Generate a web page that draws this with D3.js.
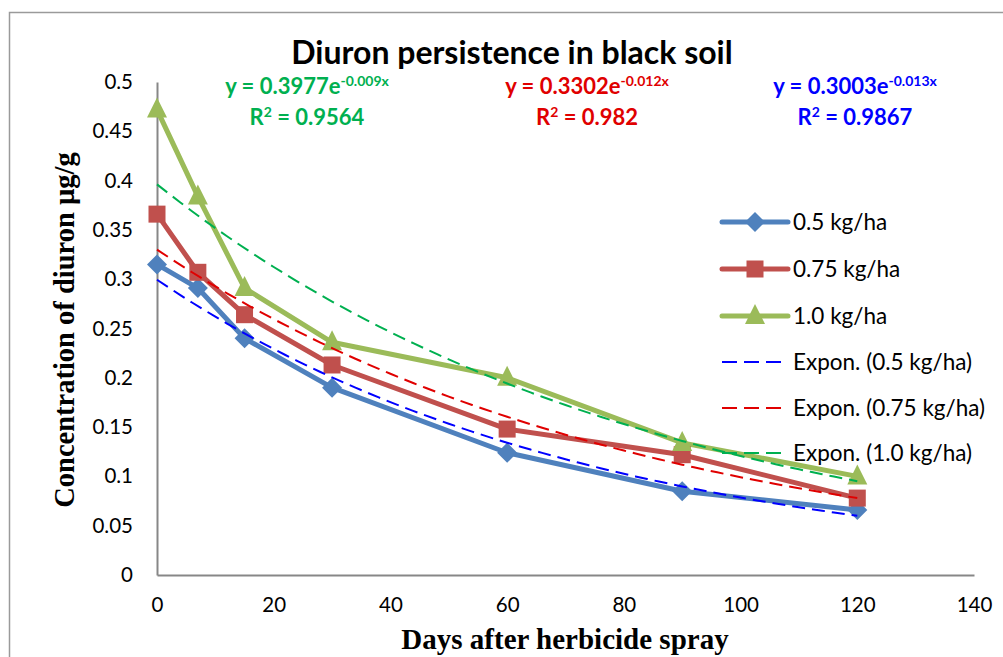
<!DOCTYPE html>
<html>
<head>
<meta charset="utf-8">
<script src="https://cdn.jsdelivr.net/npm/d3@7"></script>
<style>
  body { margin: 0; background: #fff; }
  svg { display: block; }
</style>
</head>
<body>
<div id="chart"></div>
<script>
// Days after spray
const days = [0, 7, 15, 30, 60, 90, 120];
// Residue (µg/g) per dose
const dose05 = [0.315, 0.291, 0.24, 0.19, 0.124, 0.085, 0.066];
const dose075 = [0.366, 0.307, 0.264, 0.213, 0.148, 0.122, 0.078];
const dose10 = [0.472, 0.384, 0.291, 0.236, 0.2, 0.134, 0.1];
const seriesNames = ["0.5 kg/ha", "0.75 kg/ha", "1.0 kg/ha"];
const xTicks = [0, 20, 40, 60, 80, 100, 120, 140];
const yTicks = [0, 0.05, 0.1, 0.15, 0.2, 0.25, 0.3, 0.35, 0.4, 0.45, 0.5];
// trendline labels as printed on the chart
const eqCoef = ["0.3003", "0.3302", "0.3977"];
const eqExp = ["-0.013x", "-0.012x", "-0.009x"];
const eqR2 = ["0.9867", "0.982", "0.9564"];

const width = 1003, height = 657;
const svg = d3.select("#chart").append("svg")
  .attr("width", width)
  .attr("height", height);

// chart border (runs off the right/bottom edge)
svg.append("rect")
  .attr("x", 9.5).attr("y", 12.5)
  .attr("width", 1100).attr("height", 800)
  .attr("fill", "none")
  .attr("stroke", "#9a9a9a")
  .attr("stroke-width", 1.5);

const x = d3.scaleLinear().domain([0, 140]).range([157, 974]);
const y = d3.scaleLinear().domain([0, 0.5]).range([575, 82]);

const series = [
  { name: seriesNames[0], values: dose05, color: "#4F81BD", trend: "#0000FF", marker: "diamond" },
  { name: seriesNames[1], values: dose075, color: "#C0504D", trend: "#E00000", marker: "square" },
  { name: seriesNames[2], values: dose10, color: "#9BBB59", trend: "#00B050", marker: "triangle" }
];

const sans = "Lato, 'Open Sans', sans-serif";

// Axes
const xAxis = d3.axisBottom(x).tickValues(xTicks).tickSize(0).tickPadding(22).tickFormat(d3.format("d"));
const gx = svg.append("g").attr("transform", `translate(0,${y(0)})`).call(xAxis);
const yAxis = d3.axisLeft(y).tickValues(yTicks).tickSize(0).tickPadding(24).tickFormat(d => d === 0 ? "0" : String(d));
const gy = svg.append("g").attr("transform", `translate(${x(0)},0)`).call(yAxis);
[gx, gy].forEach(g => {
  g.select(".domain").attr("stroke", "#878787").attr("stroke-width", 2);
  g.selectAll("text")
    .attr("font-family", sans)
    .attr("font-size", "20.5px")
    .attr("fill", "#000");
});

// Exponential trend fit (least squares on ln y, as the spreadsheet does)
function expFit(xs, ys) {
  const ly = ys.map(Math.log);
  const mx = d3.mean(xs), my = d3.mean(ly);
  const b = d3.sum(xs, (v, i) => (v - mx) * (ly[i] - my)) / d3.sum(xs, v => (v - mx) * (v - mx));
  const a = Math.exp(my - b * mx);
  return t => a * Math.exp(b * t);
}

const curve = d3.line().x(d => x(d[0])).y(d => y(d[1]));
series.forEach(s => {
  const f = expFit(days, s.values);
  s.trendPts = d3.range(0, 120.01, 2).map(t => [t, f(t)]);
});

// data lines
series.forEach(s => {
  svg.append("path")
    .datum(days.map((d, i) => [d, s.values[i]]))
    .attr("d", curve)
    .attr("fill", "none")
    .attr("stroke", s.color)
    .attr("stroke-width", 5)
    .attr("stroke-linejoin", "round");
});

function drawMarker(g, s, cx, cy) {
  if (s.marker === "diamond") {
    g.append("path")
      .attr("d", `M${cx},${cy - 10}L${cx + 10},${cy}L${cx},${cy + 10}L${cx - 10},${cy}Z`)
      .attr("fill", s.color);
  } else if (s.marker === "square") {
    g.append("rect")
      .attr("x", cx - 8.5).attr("y", cy - 8.5)
      .attr("width", 17).attr("height", 17)
      .attr("fill", s.color);
  } else {
    g.append("path")
      .attr("d", `M${cx},${cy - 12}L${cx + 10},${cy + 8}L${cx - 10},${cy + 8}Z`)
      .attr("fill", s.color);
  }
}

series.forEach(s => {
  const g = svg.append("g");
  days.forEach((d, i) => drawMarker(g, s, x(d), y(s.values[i])));
});

// dashed trend lines on top
series.forEach(s => {
  svg.append("path")
    .datum(s.trendPts)
    .attr("d", curve)
    .attr("fill", "none")
    .attr("stroke", s.trend)
    .attr("stroke-width", 2)
    .attr("stroke-dasharray", "13,7");
});

// Title
svg.append("text")
  .attr("x", 512).attr("y", 64)
  .attr("text-anchor", "middle")
  .attr("font-family", sans)
  .attr("font-weight", "bold")
  .attr("font-size", "32px")
  .attr("fill", "#000")
  .text("Diuron persistence in black soil");

// trendline equations
const eqPos = [
  { cx: 855, color: "#0000FF" },
  { cx: 587, color: "#E00000" },
  { cx: 307, color: "#00B050" }
];
eqPos.forEach((p, i) => {
  const t = svg.append("text")
    .attr("x", p.cx).attr("y", 94)
    .attr("text-anchor", "middle")
    .attr("font-family", sans)
    .attr("font-weight", "bold")
    .attr("font-size", "22px")
    .attr("fill", p.color);
  t.append("tspan").text(`y = ${eqCoef[i]}e`);
  t.append("tspan").attr("dy", -8).attr("font-size", "14px").text(eqExp[i]);
  const r = svg.append("text")
    .attr("x", p.cx).attr("y", 125)
    .attr("text-anchor", "middle")
    .attr("font-family", sans)
    .attr("font-weight", "bold")
    .attr("font-size", "22px")
    .attr("fill", p.color);
  r.append("tspan").text("R");
  r.append("tspan").attr("dy", -8).attr("font-size", "14px").text("2");
  r.append("tspan").attr("dy", 8).text(` = ${eqR2[i]}`);
});

// Legend
const legendItems = [
  ...series.map(s => ({ label: s.name, s, dashed: false })),
  ...series.map(s => ({ label: `Expon. (${s.name})`, s, dashed: true }))
];
const legendY = [222, 269, 316, 362, 408, 453];
legendItems.forEach((it, i) => {
  const ly = legendY[i];
  const g = svg.append("g");
  g.append("line")
    .attr("x1", 722).attr("x2", 788)
    .attr("y1", ly).attr("y2", ly)
    .attr("stroke", it.dashed ? it.s.trend : it.s.color)
    .attr("stroke-width", it.dashed ? 2 : 5)
    .attr("stroke-dasharray", it.dashed ? "15,7" : null)
    .attr("stroke-linecap", it.dashed ? "butt" : "round");
  if (!it.dashed) drawMarker(g, it.s, 755, ly);
  g.append("text")
    .attr("x", 793).attr("y", ly + 8)
    .attr("font-family", sans)
    .attr("font-size", "22.5px")
    .attr("fill", "#000")
    .text(it.label);
});

// Axis titles
svg.append("text")
  .attr("transform", "translate(74,330) rotate(-90)")
  .attr("text-anchor", "middle")
  .attr("font-family", "'Liberation Serif', 'Times New Roman', serif")
  .attr("font-weight", "bold")
  .attr("font-size", "28.5px")
  .attr("fill", "#000")
  .text("Concentration of diuron µg/g");

svg.append("text")
  .attr("x", 565).attr("y", 649)
  .attr("text-anchor", "middle")
  .attr("font-family", "'Liberation Serif', 'Times New Roman', serif")
  .attr("font-weight", "bold")
  .attr("font-size", "29px")
  .attr("fill", "#000")
  .text("Days after herbicide spray");
</script>
</body>
</html>
